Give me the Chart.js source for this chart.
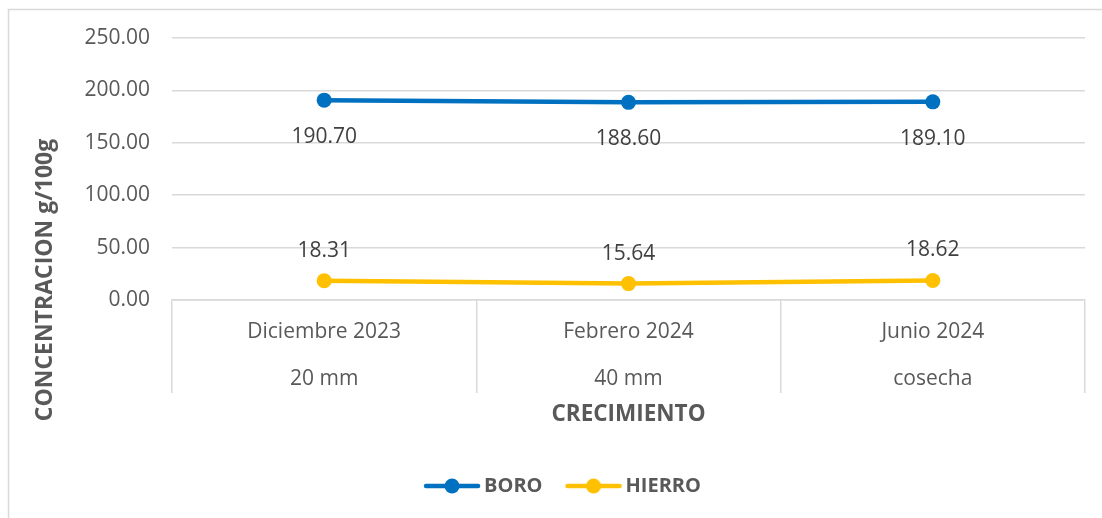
<!DOCTYPE html>
<html>
<head>
<meta charset="utf-8">
<script src="https://cdn.jsdelivr.net/npm/chart.js@4/dist/chart.umd.min.js"></script>
<style>
  html, body { margin: 0; padding: 0; background: #fff; }
  #wrap { position: relative; width: 1102px; height: 518px; }
</style>
</head>
<body>
<div id="wrap"><canvas id="grafico" width="1102" height="518"></canvas></div>
<script>
// datos del grafico
const categorias = [
  ["Diciembre 2023", "20 mm"],
  ["Febrero 2024", "40 mm"],
  ["Junio 2024", "cosecha"],
];
const boro = [190.70, 188.60, 189.10];
const hierro = [18.31, 15.64, 18.62];
const ticksY = [0, 50, 100, 150, 200, 250];

const azul = "#0070C0";
const amarillo = "#FFC000";
const gris = "#595959";
const fuente = "'Open Sans', sans-serif";

// icono de leyenda: linea con circulo
function iconoLeyenda(color) {
  const c = document.createElement("canvas");
  c.width = 58;
  c.height = 18;
  const g = c.getContext("2d");
  g.strokeStyle = color;
  g.lineWidth = 4.5;
  g.lineCap = "round";
  g.beginPath();
  g.moveTo(3, 9);
  g.lineTo(55, 9);
  g.stroke();
  g.fillStyle = color;
  g.beginPath();
  g.arc(29, 9, 7.5, 0, Math.PI * 2);
  g.fill();
  return c;
}
const iconos = [iconoLeyenda(azul), iconoLeyenda(amarillo)];

// marco exterior + titulo del eje Y
const marco = {
  id: "marco",
  beforeDraw(chart) {
    const ctx = chart.ctx;
    ctx.save();
    ctx.strokeStyle = "#d9d9d9";
    ctx.lineWidth = 1.5;
    ctx.strokeRect(8.5, 9.5, 2000, 2000);
    ctx.restore();
  },
  afterDraw(chart) {
    const ctx = chart.ctx;
    ctx.save();
    ctx.translate(45, 280);
    ctx.rotate(-Math.PI / 2);
    ctx.font = "bold 23px " + fuente;
    ctx.fillStyle = gris;
    ctx.textAlign = "center";
    ctx.textBaseline = "middle";
    ctx.fillText("CONCENTRACION g/100g", 0, 0);
    ctx.restore();
  },
};

// etiquetas de datos (BORO abajo, HIERRO arriba)
const desplazamiento = [37, -30];
const etiquetas = {
  id: "etiquetas",
  afterDatasetsDraw(chart) {
    const ctx = chart.ctx;
    ctx.save();
    ctx.font = "21px " + fuente;
    ctx.fillStyle = "#404040";
    ctx.textAlign = "center";
    ctx.textBaseline = "middle";
    chart.data.datasets.forEach((ds, i) => {
      chart.getDatasetMeta(i).data.forEach((p, j) => {
        ctx.fillText(ds.data[j].toFixed(2), p.x, p.y + desplazamiento[i]);
      });
    });
    ctx.restore();
  },
};

const ctx = document.getElementById("grafico");

new Chart(ctx, {
  type: "line",
  data: {
    labels: categorias,
    datasets: [
      {
        label: "BORO",
        data: boro,
        borderColor: azul,
        backgroundColor: azul,
        borderWidth: 4.5,
        pointRadius: 7.5,
        pointHoverRadius: 7.5,
        pointBorderWidth: 0,
        tension: 0,
      },
      {
        label: "HIERRO",
        data: hierro,
        borderColor: amarillo,
        backgroundColor: amarillo,
        borderWidth: 4.5,
        pointRadius: 7.5,
        pointHoverRadius: 7.5,
        pointBorderWidth: 0,
        tension: 0,
      },
    ],
  },
  options: {
    responsive: false,
    animation: false,
    layout: {
      padding: { left: 46, top: 38, right: 17, bottom: 12 },
    },
    scales: {
      x: {
        offset: true,
        grid: {
          offset: true,
          drawOnChartArea: false,
          tickLength: 93,
          color: "#d9d9d9",
          lineWidth: 1.5,
        },
        border: { display: true, color: "#d9d9d9", width: 1.5 },
        ticks: {
          color: gris,
          font: { family: fuente, size: 21, lineHeight: 47 / 21 },
          padding: -84,
          maxRotation: 0,
          autoSkip: false,
        },
        title: {
          display: true,
          text: "CRECIMIENTO",
          color: gris,
          font: { family: fuente, size: 22.5, weight: "bold" },
          padding: { top: 0, bottom: 19 },
        },
        afterFit(s) {
          s.height = 147;
        },
      },
      y: {
        min: 0,
        max: 250,
        afterBuildTicks(s) {
          s.ticks = ticksY.map((v) => ({ value: v }));
        },
        grid: { color: "#d9d9d9", lineWidth: 1.5, drawTicks: false },
        border: { display: false },
        ticks: {
          color: gris,
          font: { family: fuente, size: 21 },
          padding: 22,
          callback: (v) => Number(v).toFixed(2),
        },
        afterFit(s) {
          s.width = 126;
        },
      },
    },
    plugins: {
      legend: {
        position: "bottom",
        labels: {
          usePointStyle: true,
          pointStyleWidth: 44,
          color: gris,
          font: { family: fuente, size: 20, weight: "bold" },
          padding: 29,
          generateLabels(chart) {
            const items = Chart.defaults.plugins.legend.labels.generateLabels(chart);
            items.forEach((it, i) => {
              it.pointStyle = iconos[i];
            });
            return items;
          },
        },
      },
      tooltip: { enabled: false },
    },
  },
  plugins: [marco, etiquetas],
});
</script>
</body>
</html>
